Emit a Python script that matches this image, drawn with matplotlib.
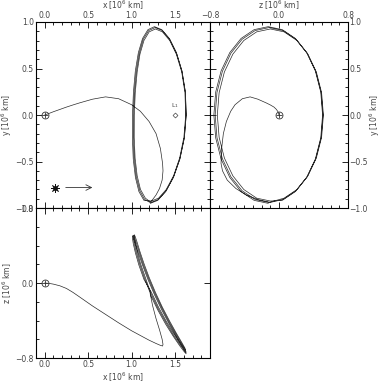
import matplotlib
matplotlib.use('Agg')
from matplotlib import pyplot as plt
from matplotlib.ticker import MultipleLocator

# Trajectory in units of 10^6 km (read off the three projections)
# transfer leg, Earth -> halo orbit
transfer_x = [0.0, 0.05, 0.1, 0.175, 0.25, 0.325, 0.4, 0.55, 0.7, 0.85, 1.0, 1.1, 1.2, 1.28, 1.33, 1.355, 1.36, 1.35, 1.32, 1.28, 1.24, 1.21]
transfer_y = [0.0, 0.017, 0.035, 0.06, 0.085, 0.108, 0.13, 0.17, 0.195, 0.175, 0.11, 0.04, -0.07, -0.2, -0.36, -0.52, -0.6, -0.7, -0.79, -0.86, -0.91, -0.94]
transfer_z = [0.0, -0.004, -0.012, -0.03, -0.058, -0.1, -0.148, -0.245, -0.335, -0.425, -0.51, -0.56, -0.61, -0.645, -0.665, -0.672, -0.655, -0.6, -0.5, -0.38, -0.24, -0.1]

# halo orbit, three revolutions
halo1_x = [1.149, 1.093, 1.053, 1.029, 1.019, 1.020, 1.031, 1.053, 1.087, 1.133, 1.195, 1.269,
           1.352, 1.437, 1.516, 1.579, 1.618, 1.627, 1.606, 1.555, 1.482, 1.397, 1.306, 1.222]
halo1_y = [-0.908, -0.814, -0.665, -0.47, -0.243, 0.0, 0.243, 0.47, 0.665, 0.814, 0.908, 0.94,
           0.908, 0.814, 0.665, 0.47, 0.243, 0.0, -0.243, -0.47, -0.665, -0.814, -0.908, -0.94]
halo1_z = [0.047, 0.198, 0.327, 0.426, 0.489, 0.51, 0.489, 0.426, 0.327, 0.198, 0.047, -0.115,
           -0.277, -0.428, -0.557, -0.656, -0.719, -0.74, -0.719, -0.656, -0.557, -0.428, -0.277, -0.115]

halo2_x = [1.157, 1.101, 1.063, 1.039, 1.029, 1.030, 1.041, 1.063, 1.095, 1.141, 1.201, 1.273,
           1.353, 1.437, 1.513, 1.575, 1.612, 1.621, 1.600, 1.551, 1.481, 1.397, 1.309, 1.227]
halo2_y = [-0.894, -0.801, -0.654, -0.463, -0.24, 0.0, 0.24, 0.463, 0.654, 0.801, 0.894, 0.925,
           0.894, 0.801, 0.654, 0.463, 0.24, 0.0, -0.24, -0.463, -0.654, -0.801, -0.894, -0.925]
halo2_z = [0.059, 0.208, 0.335, 0.433, 0.494, 0.515, 0.494, 0.433, 0.335, 0.208, 0.059, -0.10,
           -0.259, -0.408, -0.535, -0.633, -0.694, -0.715, -0.694, -0.633, -0.535, -0.408, -0.259, -0.10]

halo3_x = [1.141, 1.083, 1.043, 1.018, 1.008, 1.009, 1.020, 1.042, 1.077, 1.125, 1.187, 1.262,
           1.346, 1.433, 1.513, 1.577, 1.617, 1.626, 1.605, 1.553, 1.479, 1.391, 1.300, 1.214]
halo3_y = [-0.918, -0.823, -0.672, -0.475, -0.246, 0.0, 0.246, 0.475, 0.672, 0.823, 0.918, 0.95,
           0.918, 0.823, 0.672, 0.475, 0.246, 0.0, -0.246, -0.475, -0.672, -0.823, -0.918, -0.95]
halo3_z = [0.038, 0.19, 0.32, 0.421, 0.484, 0.505, 0.484, 0.421, 0.32, 0.19, 0.038, -0.125,
           -0.288, -0.44, -0.57, -0.671, -0.734, -0.755, -0.734, -0.671, -0.57, -0.44, -0.288, -0.125]

l1_pos = (1.5, 0.0)
sun_pos = (0.12, -0.78)
arrow_x = (0.21, 0.58)

path_x = transfer_x + halo1_x + halo2_x + halo3_x
path_y = transfer_y + halo1_y + halo2_y + halo3_y
path_z = transfer_z + halo1_z + halo2_z + halo3_z

txt = '#444444'
fs = 5.5
lab_x = 'x [10$^6$ km]'
lab_y = 'y [10$^6$ km]'
lab_z = 'z [10$^6$ km]'

fig = plt.figure(figsize=(3.82, 3.88), dpi=100)
ax1 = fig.add_axes([0.0942, 0.4639, 0.4555, 0.4794])
ax2 = fig.add_axes([0.5497, 0.4639, 0.3613, 0.4794])
ax3 = fig.add_axes([0.0942, 0.0773, 0.4555, 0.3866])

line_kw = dict(color='#2a2a2a', lw=0.5)
ax1.plot(path_x, path_y, **line_kw)
ax2.plot(path_z, path_y, **line_kw)
ax3.plot(path_x, path_z, **line_kw)


def earth(ax):
    ax.plot(0, 0, 'o', ms=5, mfc='none', mec='#333333', mew=0.6)
    ax.plot(0, 0, '+', ms=5, mec='#333333', mew=0.6)


for ax in (ax1, ax2, ax3):
    earth(ax)
    for s in ax.spines.values():
        s.set_linewidth(0.8)
    ax.tick_params(which='both', direction='in', width=0.6, labelsize=fs,
                   labelcolor=txt, pad=1.5)
    ax.tick_params(which='major', length=4)
    ax.tick_params(which='minor', length=2)

# L1 point and Sun direction
ax1.plot(*l1_pos, 'D', ms=2.5, mfc='none', mec='#444444', mew=0.5)
ax1.text(l1_pos[0], l1_pos[1] + 0.05, 'L$_1$', fontsize=4.5, color=txt,
         ha='center', va='bottom', rotation=0)
ax1.plot(*sun_pos, 'o', ms=2.5, color='#111111')
ax1.plot(*sun_pos, marker=(8, 2, 0), ms=6, color='#111111', mew=0.6)
ax1.annotate('', xy=(arrow_x[1], sun_pos[1]), xytext=(arrow_x[0], sun_pos[1]),
             arrowprops=dict(arrowstyle='->', color='#333333', lw=0.6))

# x-y
ax1.set_xlim(-0.1, 1.9)
ax1.set_ylim(-1.0, 1.0)
ax1.xaxis.set_major_locator(MultipleLocator(0.5))
ax1.xaxis.set_minor_locator(MultipleLocator(0.1))
ax1.yaxis.set_major_locator(MultipleLocator(0.5))
ax1.yaxis.set_minor_locator(MultipleLocator(0.1))
ax1.tick_params(axis='x', which='both', top=True, labeltop=True, bottom=True, labelbottom=False)
ax1.tick_params(axis='y', which='both', left=True, right=True)
ax1.xaxis.set_label_position('top')
ax1.set_xlabel(lab_x, fontsize=fs, color=txt, labelpad=1)
ax1.set_ylabel(lab_y, fontsize=fs, color=txt, labelpad=1)

# z-y
ax2.set_xlim(-0.8, 0.8)
ax2.set_ylim(-1.0, 1.0)
ax2.xaxis.set_major_locator(MultipleLocator(0.8))
ax2.xaxis.set_minor_locator(MultipleLocator(0.1))
ax2.yaxis.set_major_locator(MultipleLocator(0.5))
ax2.yaxis.set_minor_locator(MultipleLocator(0.1))
ax2.tick_params(axis='x', which='both', top=True, labeltop=True, bottom=True, labelbottom=False)
ax2.tick_params(axis='y', which='both', left=True, right=True, labelleft=False, labelright=True)
ax2.tick_params(axis='y', pad=1)
ax2.xaxis.set_label_position('top')
ax2.yaxis.set_label_position('right')
ax2.set_xlabel(lab_z, fontsize=fs, color=txt, labelpad=1)
ax2.set_ylabel(lab_y, fontsize=fs, color=txt, labelpad=0)

# x-z
ax3.set_xlim(-0.1, 1.9)
ax3.set_ylim(-0.8, 0.8)
ax3.xaxis.set_major_locator(MultipleLocator(0.5))
ax3.xaxis.set_minor_locator(MultipleLocator(0.1))
ax3.yaxis.set_major_locator(MultipleLocator(0.8))
ax3.yaxis.set_minor_locator(MultipleLocator(0.2))
ax3.tick_params(axis='x', which='both', top=True, bottom=True)
ax3.tick_params(axis='y', which='minor', right=False)
ax3.tick_params(axis='y', which='major', right=True)
ax3.set_xlabel(lab_x, fontsize=fs, color=txt, labelpad=1)
ax3.set_ylabel(lab_z, fontsize=fs, color=txt, labelpad=1)

fig.savefig('out.png', dpi=100)
